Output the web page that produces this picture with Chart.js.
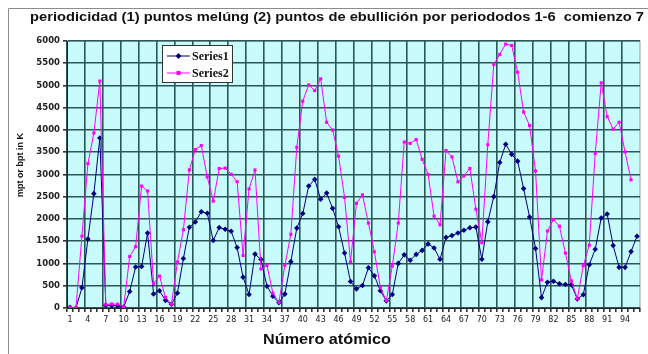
<!DOCTYPE html>
<html>
<head>
<meta charset="utf-8">
<script src="https://cdn.jsdelivr.net/npm/chart.js@4.4.1/dist/chart.umd.min.js"></script>
<style>
  html, body { margin: 0; padding: 0; background: #fff; }
  #wrap { width: 648px; height: 354px; }
</style>
</head>
<body>
<div id="wrap"><canvas id="chart" width="648" height="354"></canvas></div>
<script>
// numero atomico 1..96
var categories = [
  1, 2, 3, 4, 5, 6, 7, 8, 9, 10, 11, 12, 13, 14, 15, 16, 17, 18, 19, 20,
  21, 22, 23, 24, 25, 26, 27, 28, 29, 30, 31, 32, 33, 34, 35, 36, 37, 38, 39, 40,
  41, 42, 43, 44, 45, 46, 47, 48, 49, 50, 51, 52, 53, 54, 55, 56, 57, 58, 59, 60,
  61, 62, 63, 64, 65, 66, 67, 68, 69, 70, 71, 72, 73, 74, 75, 76, 77, 78, 79, 80,
  81, 82, 83, 84, 85, 86, 87, 88, 89, 90, 91, 92, 93, 94, 95, 96
];
var tickLabels = ['1', '4', '7', '10', '13', '16', '19', '22', '25', '28', '31', '34', '37', '40', '43', '46',
  '49', '52', '55', '58', '61', '64', '67', '70', '73', '76', '79', '82', '85', '88', '91', '94'];
var yTicks = [0, 500, 1000, 1500, 2000, 2500, 3000, 3500, 4000, 4500, 5000, 5500, 6000];

// Series1: punto de fusion (K)
var series1 = [
  14, 1, 454, 1551, 2570, 3820, 63, 54, 53, 25,
  371, 922, 934, 1683, 317, 386, 172, 84, 336, 1112,
  1814, 1933, 2163, 2130, 1517, 1808, 1768, 1726, 1357, 693,
  303, 1211, 1090, 490, 266, 117, 312, 1042, 1795, 2125,
  2741, 2890, 2445, 2583, 2239, 1825, 1235, 594, 430, 505,
  904, 723, 387, 161, 302, 1002, 1194, 1072, 1204, 1294,
  1441, 1350, 1095, 1586, 1629, 1685, 1747, 1802, 1818, 1097,
  1936, 2503, 3269, 3680, 3453, 3300, 2683, 2045, 1337, 234,
  577, 601, 544, 527, 520, 202, 300, 973, 1320, 2023,
  2113, 1405, 913, 914, 1267, 1613
];
// Series2: punto de ebullicion (K)
var series2 = [
  20, 4, 1615, 3243, 3931, 5100, 77, 90, 85, 27,
  1156, 1380, 2740, 2628, 553, 718, 239, 87, 1032, 1757,
  3104, 3560, 3650, 2945, 2400, 3134, 3143, 3005, 2840, 1180,
  2676, 3103, 876, 958, 332, 121, 961, 1655, 3611, 4650,
  5015, 4885, 5150, 4173, 4000, 3413, 2485, 1038, 2353, 2543,
  1908, 1263, 457, 165, 944, 1910, 3730, 3699, 3785, 3341,
  3000, 2064, 1870, 3539, 3396, 2835, 2968, 3136, 2220, 1467,
  3668, 5470, 5698, 5930, 5900, 5300, 4403, 4100, 3080, 630,
  1730, 1990, 1837, 1235, 610, 211, 950, 1413, 3470, 5060,
  4300, 4018, 4175, 3505, 2880, null
];

var chartTitle = 'periodicidad (1) puntos melúng (2) puntos de ebullición por periododos 1-6  comienzo 7';
var xTitle = 'Número atómico';
var yTitle = 'mpt or bpt in K';

var gridColor = '#2a5858';
var plotBg = '#c8fbfb';

// texto estirado a lo ancho, como en la imagen original
function stretchText(ctx, text, x, y, width) {
  var w = ctx.measureText(text).width;
  ctx.save();
  ctx.translate(x, y);
  ctx.scale(width / w, 1);
  ctx.fillText(text, 0, 0);
  ctx.restore();
}

var extras = {
  id: 'extras',
  beforeDraw: function (chart) {
    var ctx = chart.ctx, a = chart.chartArea;
    ctx.save();
    ctx.fillStyle = '#ffffff';
    ctx.fillRect(0, 0, chart.width, chart.height);
    ctx.fillStyle = plotBg;
    ctx.fillRect(a.left, a.top, a.right - a.left, a.bottom - a.top);
    ctx.strokeStyle = '#8c8c8c';
    ctx.lineWidth = 1;
    ctx.beginPath();
    ctx.moveTo(8.5, 354);
    ctx.lineTo(8.5, 8.5);
    ctx.lineTo(648, 8.5);
    ctx.stroke();
    ctx.strokeStyle = '#9a9a9a';
    ctx.strokeRect(a.left, a.top, a.right - a.left, a.bottom - a.top);
    ctx.restore();
  },
  afterDraw: function (chart) {
    var ctx = chart.ctx;
    ctx.save();
    ctx.fillStyle = '#111';
    ctx.textBaseline = 'alphabetic';
    ctx.textAlign = 'left';
    ctx.font = 'bold 13px "Liberation Sans", Arial, sans-serif';
    stretchText(ctx, chartTitle, 30, 21, 614);

    ctx.textAlign = 'left';
    ctx.textBaseline = 'middle';
    ctx.font = 'bold 15px "Liberation Sans", Arial, sans-serif';
    stretchText(ctx, xTitle, 263, 340, 128);

    ctx.save();
    ctx.translate(21, 165);
    ctx.rotate(-Math.PI / 2);
    ctx.textAlign = 'center';
    ctx.font = 'bold 9px "Liberation Sans", Arial, sans-serif';
    ctx.fillText(yTitle, 0, 0);
    ctx.restore();

    // leyenda
    var lx = 162.5, ly = 45.5, lw = 70, lh = 37;
    ctx.fillStyle = '#ffffff';
    ctx.fillRect(lx, ly, lw, lh);
    ctx.strokeStyle = '#333';
    ctx.lineWidth = 1;
    ctx.strokeRect(lx, ly, lw, lh);
    chart.data.datasets.forEach(function (ds, i) {
      var y = 56 + i * 17;
      ctx.strokeStyle = ds.borderColor;
      ctx.beginPath();
      ctx.moveTo(167, y);
      ctx.lineTo(190, y);
      ctx.stroke();
      ctx.fillStyle = ds.borderColor;
      ctx.beginPath();
      if (ds.pointStyle === 'rectRot') {
        ctx.moveTo(178.5, y - 3); ctx.lineTo(181.5, y); ctx.lineTo(178.5, y + 3); ctx.lineTo(175.5, y);
      } else {
        ctx.rect(176.5, y - 2, 4, 4);
      }
      ctx.fill();
      ctx.fillStyle = '#111';
      ctx.textAlign = 'left';
      ctx.textBaseline = 'middle';
      ctx.font = 'bold 12px "Liberation Serif", "Times New Roman", serif';
      ctx.fillText(ds.label, 192, y + 0.5);
    });
    ctx.restore();
  }
};

var ctx = document.getElementById('chart').getContext('2d');
var chart = new Chart(ctx, {
  type: 'line',
  data: {
    labels: categories,
    datasets: [{
      label: 'Series1',
      data: series1,
      borderColor: '#000080',
      backgroundColor: '#000080',
      borderWidth: 1,
      pointStyle: 'rectRot',
      pointRadius: 2.8,
      pointBorderWidth: 0,
      tension: 0,
      order: 1
    }, {
      label: 'Series2',
      data: series2,
      borderColor: '#ff00ff',
      backgroundColor: '#ff00ff',
      borderWidth: 1,
      pointStyle: 'rect',
      pointRadius: 2.2,
      pointBorderWidth: 0,
      tension: 0,
      spanGaps: false,
      order: 0
    }]
  },
  options: {
    responsive: false,
    devicePixelRatio: 1,
    animation: false,
    layout: { padding: { left: 10, right: 8, top: 41, bottom: 0 } },
    plugins: {
      legend: { display: false },
      title: { display: false },
      tooltip: { enabled: false }
    },
    scales: {
      x: {
        type: 'category',
        offset: true,
        afterFit: function (s) { s.height = 46; },
        grid: {
          offset: true,
          color: function (c) { return c.index % 3 === 0 ? gridColor : 'rgba(0,0,0,0)'; },
          lineWidth: 1.6,
          tickColor: '#333',
          tickLength: 4
        },
        border: { color: '#222', width: 1 },
        ticks: {
          autoSkip: false,
          maxRotation: 0,
          padding: 3,
          color: '#222',
          font: { family: '"DejaVu Sans", sans-serif', size: 8 },
          callback: function (v, i) {
            var lab = String(categories[i]);
            return tickLabels.indexOf(lab) >= 0 ? lab : '';
          }
        }
      },
      y: {
        min: yTicks[0],
        max: yTicks[yTicks.length - 1],
        afterFit: function (s) { s.width = 57; },
        grid: { color: gridColor, lineWidth: 1.6, tickColor: '#333', tickLength: 4 },
        border: { color: '#222', width: 1 },
        ticks: {
          stepSize: 500,
          padding: 3,
          color: '#222',
          font: { family: '"DejaVu Sans", sans-serif', size: 8.5, weight: 'bold' },
          callback: function (v) { return String(v); }
        }
      }
    }
  },
  plugins: [extras]
});
</script>
</body>
</html>
